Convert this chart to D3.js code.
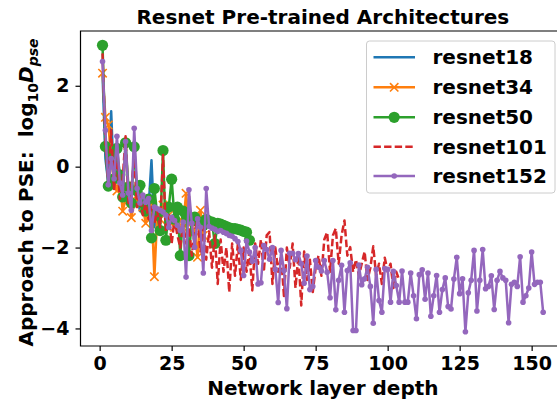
<!DOCTYPE html>
<html>
<head>
<meta charset="utf-8">
<script src="https://cdn.jsdelivr.net/npm/d3@7"></script>
<style>
  html, body { margin: 0; padding: 0; background: #fff; }
  svg { display: block; font-family: "DejaVu Sans", sans-serif; font-weight: bold; }
</style>
</head>
<body>
<svg id="chart" width="557" height="400"></svg>
<script>
// ---------- data (layer index = position in array + 1) ----------
const seriesNames = ["resnet18", "resnet34", "resnet50", "resnet101", "resnet152"];
const seriesColors = ["#1f77b4", "#ff7f0e", "#2ca02c", "#d62728", "#9467bd"];

const resnet18 = [2.3, 0.2, -0.4, 1.37, -0.5, 0.3, -0.5, -0.2, -0.9, -0.6, -0.8, -1.0, -0.7, -1.1, -1.0, -1.2, -1.0, 0.16, -1.5, -1.1];

const resnet34 = [2.31, 1.22, 1.03, 0.3, -0.4, -0.6, -0.3, -1.1, -0.8, -0.5, -1.26, -0.9, -0.7, -0.9, -1.0, -1.4, -1.1, -0.9, -2.72, -1.2,
  -1.3, -0.95, -1.0, -1.2, -1.35, -1.5, -1.4, -1.3, -1.5, -0.66, -1.4, -1.5, -1.6, -2.24, -1.08, -1.7];

const resnet50 = [3.0, 0.5, -0.48, 0.3, -0.3, 0.45, -0.2, -0.75, 0.59, -0.5, -0.9, 0.49, -0.6, -0.46, -0.9, -1.1, -0.8, -1.76, -0.54, -1.2,
  -1.58, 0.40, -1.82, -1.0, -0.31, -1.3, -1.0, -2.2, -1.1, -1.2, -2.2, -1.3, -1.25, -1.35, -1.4, -1.45, -1.3, -1.35, -1.37, -1.9,
  -1.4, -1.42, -1.45, -1.48, -1.51, -1.53, -1.53, -1.55, -1.57, -1.6, -1.62, -1.82];

const resnet101 = [2.8, 0.6, -0.4, 0.9, -0.6, 0.4, -0.8, -0.3, 0.75, -0.9, -0.5, 0.2, -1.0, -0.7, -1.2, -0.9, -1.3, -1.0, -1.4, -1.1,
  -1.5, 0.29, -1.6, -1.2, -1.9, -1.3, -1.7, -2.0, -1.4, -1.9, -1.5, -2.2, -1.6, -1.3, -2.1, -1.5, -2.3, -1.6, -2.5, -1.7,
  -2.9, -1.8, -2.6, -2.0, -3.1, -1.9, -2.7, -1.9, -2.8, -2.0, -2.6, -2.1, -3.06, -1.9, -2.4, -1.8, -2.6, -1.7, -1.62, -2.9,
  -2.0, -2.6, -2.2, -3.2, -2.0, -2.5, -1.9, -3.0, -2.2, -3.43, -2.1, -2.8, -2.3, -3.1, -2.5, -2.2, -2.7, -1.8, -1.62, -2.6,
  -1.7, -1.53, -2.4, -1.7, -1.33, -2.2, -1.99, -2.6, -2.3, -2.7, -2.4, -2.1, -2.8, -2.5, -1.97, -2.7, -2.4, -2.9, -2.25, -2.6,
  -2.4, -3.0, -2.6, -2.8];

const resnet152 = [2.6, 0.9, -0.45, 0.2, -0.3, 0.75, -0.4, -0.7, 0.62, -0.65, -1.08, 0.95, -0.54, -0.9, -0.7, -0.88, -0.79, -1.58, -1.0, -1.04,
  -1.08, -1.12, -1.2, -1.5, -1.25, -1.33, -1.45, -1.58, -1.37, -2.73, -0.57, -1.4, -1.99, -1.29, -1.5, -2.63, -0.54, -1.48, -1.52, -1.55,
  -1.6, -1.58, -1.62, -1.65, -1.70, -1.72, -1.78, -1.85, -2.07, -2.69,
  -1.84, -2.11, -2.34, -2.0, -2.90, -2.87, -1.95, -2.05, -2.29, -2.00, -2.54, -3.36, -2.07, -2.57, -3.51, -2.14, -2.14, -2.30, -2.15, -2.40,
  -2.88, -2.21, -3.04, -2.96, -2.32, -2.49, -2.58, -2.32, -2.61, -3.24, -2.32, -3.54, -2.81, -2.44, -3.60, -2.57, -2.38, -4.05, -4.05, -2.43,
  -2.92, -2.77, -2.49, -2.96, -3.87, -2.54, -3.31, -3.60, -2.52, -2.54, -3.35,
  -2.59, -2.94, -3.35, -2.58, -3.35, -3.35, -2.63, -3.19, -3.76, -2.67, -2.55, -3.28, -2.63, -3.70, -3.19, -2.69, -3.60, -3.04, -2.75,
  -3.46, -3.52, -2.78, -2.24, -3.14, -2.77, -4.08, -3.12, -2.81, -2.07, -3.57, -2.81, -2.05, -3.02, -2.96, -2.70, -3.53, -2.81, -2.59, -2.75,
  -2.81, -3.86, -2.91, -2.86, -2.96, -2.23, -3.35, -3.19, -3.00, -2.11, -2.91, -2.86, -2.86, -3.60];

const xTicks = [0, 25, 50, 75, 100, 125, 150];
const yTicks = [-4, -2, 0, 2];
const titleText = "Resnet Pre-trained Architectures";
const xLabelText = "Network layer depth";

// ---------- layout ----------
const svg = d3.select("#chart");
const allSeries = [resnet18, resnet34, resnet50, resnet101, resnet152];
const mLeft = 80.5, mTop = 31, mBottom = 346;

const xExt = [1, d3.max(allSeries, s => s.length)];
const xPad = (xExt[1] - xExt[0]) * 0.05;
const x = d3.scaleLinear().domain([xExt[0] - xPad, xExt[1] + xPad])
  .range([mLeft, mLeft + 2.88 * (xExt[1] - xExt[0] + 2 * xPad)]);
const mRight = x.range()[1];

const yMin = d3.min(allSeries, s => d3.min(s)), yMax = d3.max(allSeries, s => d3.max(s));
const yPad = (yMax - yMin) * 0.05;
const y = d3.scaleLinear().domain([yMin - yPad, yMax + yPad]).range([mBottom, mTop]);

const plot = svg.append("g");
const line = d3.line().x((d, i) => x(i + 1)).y(d => y(d));

const styles = [
  { lw: 2.5, dash: null, marker: null },
  { lw: 2.5, dash: null, marker: "x" },
  { lw: 2.5, dash: null, marker: "o" },
  { lw: 2.5, dash: "7.4,3.2", marker: null },
  { lw: 2.5, dash: null, marker: "." }
];

function drawMarker(g, kind, cx, cy, color) {
  if (kind === "x") {
    const s = 4.2;
    g.append("path").attr("d", `M${cx - s},${cy - s}L${cx + s},${cy + s}M${cx - s},${cy + s}L${cx + s},${cy - s}`)
      .attr("stroke", color).attr("stroke-width", 1.6).attr("fill", "none");
  } else if (kind === "o") {
    g.append("circle").attr("cx", cx).attr("cy", cy).attr("r", 5.6).attr("fill", color);
  } else if (kind === ".") {
    g.append("circle").attr("cx", cx).attr("cy", cy).attr("r", 2.8).attr("fill", color);
  }
}

allSeries.forEach((data, k) => {
  const g = plot.append("g");
  const st = styles[k];
  g.append("path").datum(data).attr("d", line)
    .attr("fill", "none").attr("stroke", seriesColors[k]).attr("stroke-width", st.lw)
    .attr("stroke-linejoin", "round").attr("stroke-linecap", st.dash ? "butt" : "round")
    .attr("stroke-dasharray", st.dash);
  if (st.marker) data.forEach((d, i) => drawMarker(g, st.marker, x(i + 1), y(d), seriesColors[k]));
});

// ---------- axes ----------
const xAxis = d3.axisBottom(x).tickValues(xTicks).tickSize(5).tickPadding(6).tickFormat(d3.format("d"));
const yAxis = d3.axisLeft(y).tickValues(yTicks).tickSize(5).tickPadding(6)
  .tickFormat(d => d < 0 ? "\u2212" + Math.abs(d) : String(d));

const gx = svg.append("g").attr("transform", `translate(0,${mBottom})`).call(xAxis);
const gy = svg.append("g").attr("transform", `translate(${mLeft},0)`).call(yAxis);
[gx, gy].forEach(g => {
  g.select(".domain").remove();
  g.selectAll("line").attr("stroke", "#000").attr("stroke-width", 1.2);
  g.selectAll("text").attr("font-family", "DejaVu Sans").attr("font-weight", "bold").attr("font-size", 19).attr("fill", "#000");
});

// spines (right spine lies outside the picture)
svg.append("path").attr("d", `M${mLeft},${mTop}L${mLeft},${mBottom}L${mRight},${mBottom}M${mLeft},${mTop}L${mRight},${mTop}M${mRight},${mTop}L${mRight},${mBottom}`)
  .attr("fill", "none").attr("stroke", "#000").attr("stroke-width", 1.2).attr("stroke-linecap", "square");

// ---------- texts ----------
svg.append("text").attr("x", (mLeft + mRight) / 2).attr("y", 24).attr("text-anchor", "middle")
  .attr("font-size", 20).text(titleText);
svg.append("text").attr("x", (mLeft + mRight) / 2).attr("y", 395).attr("text-anchor", "middle")
  .attr("font-size", 20).text(xLabelText);

const yl = svg.append("text").attr("transform", `translate(33,${(mTop + mBottom) / 2 + 4}) rotate(-90)`)
  .attr("text-anchor", "middle").attr("font-size", 20).style("white-space", "pre");
yl.append("tspan").text("Approach to PSE:  log");
yl.append("tspan").attr("font-size", 14).attr("dy", 5).text("10");
yl.append("tspan").attr("dy", -5).attr("font-style", "italic").text("D");
yl.append("tspan").attr("font-size", 14).attr("dy", 5).attr("font-style", "italic").text("pse");

// ---------- legend ----------
const lg = svg.append("g");
lg.append("rect").attr("x", 366.5).attr("y", 41).attr("width", 188.5).attr("height", 152).attr("rx", 3)
  .attr("fill", "#fff").attr("fill-opacity", 0.8).attr("stroke", "#cccccc").attr("stroke-width", 1);
const rowY = [57.3, 87.3, 117.3, 146.7, 176];
seriesNames.forEach((name, k) => {
  const cy = rowY[k];
  const st = styles[k];
  lg.append("line").attr("x1", 373.5).attr("x2", 415).attr("y1", cy).attr("y2", cy)
    .attr("stroke", seriesColors[k]).attr("stroke-width", st.lw).attr("stroke-dasharray", st.dash);
  if (st.marker) drawMarker(lg, st.marker, 394.2, cy, seriesColors[k]);
  lg.append("text").attr("x", 432.5).attr("y", cy + 7).attr("font-size", 20).text(name);
});
</script>
</body>
</html>
